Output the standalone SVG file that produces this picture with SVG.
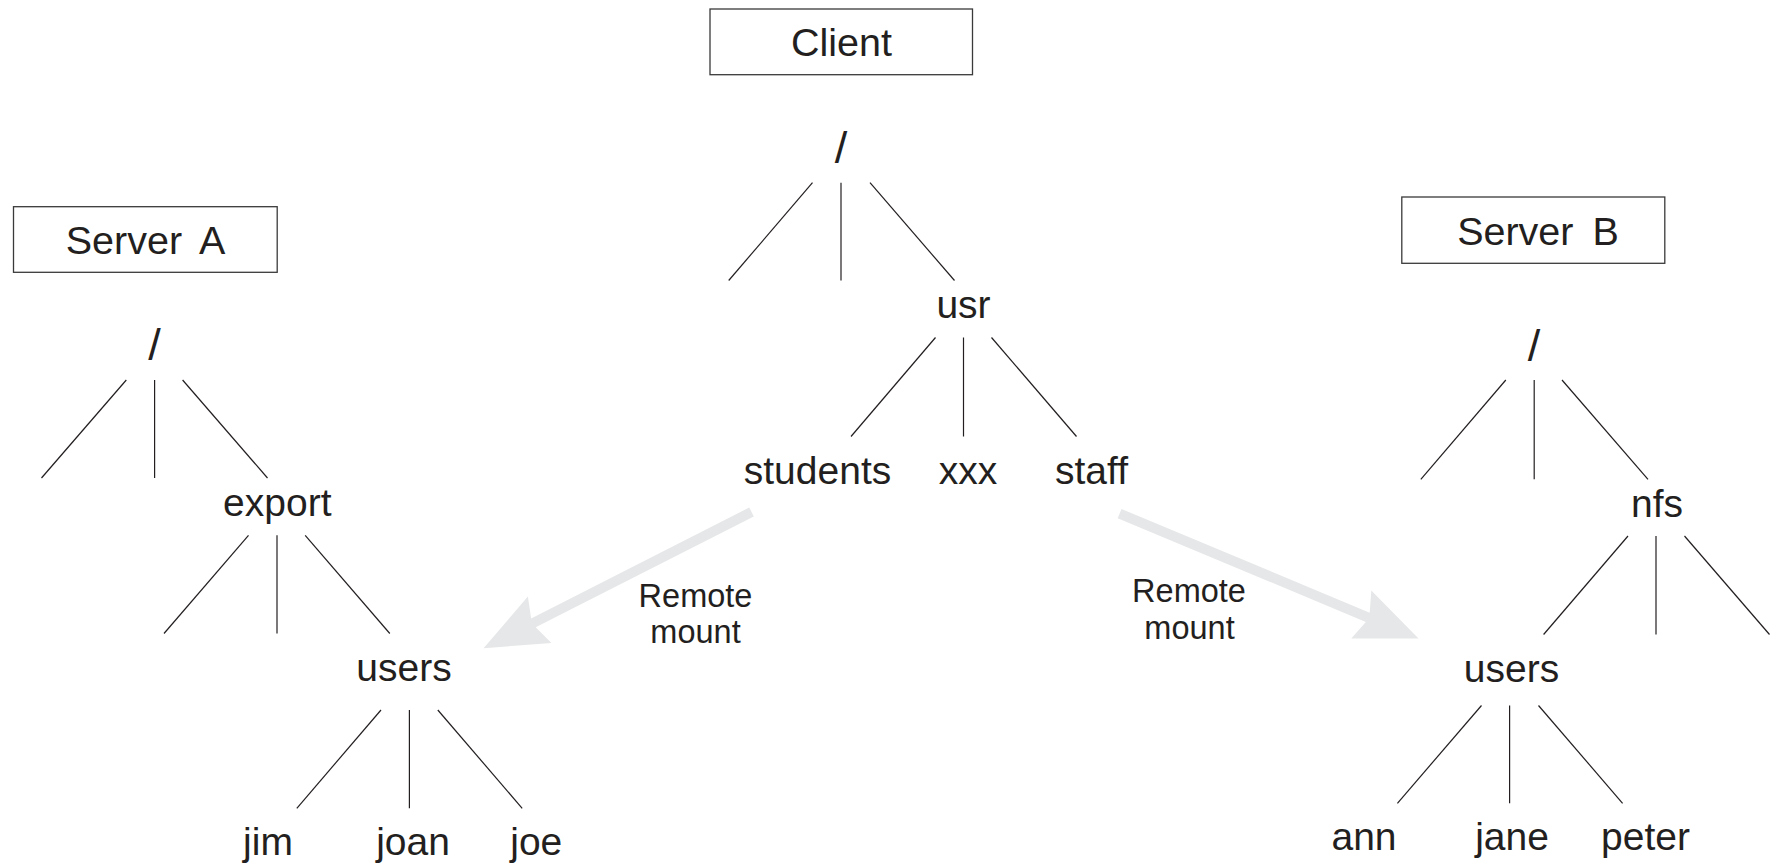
<svg xmlns="http://www.w3.org/2000/svg" width="1779" height="865" viewBox="0 0 1779 865">
<style>
  .box { fill: #ffffff; stroke: #3a3a3a; stroke-width: 1.3; }
  .t { font-family: "Liberation Sans", Arial, sans-serif; font-size: 39px; fill: #231f20; text-anchor: middle; }
  .title { font-size: 39.5px; }
  .slash { font-size: 45px; }
  .lbl { font-family: "Liberation Sans", Arial, sans-serif; font-size: 32.5px; fill: #231f20; text-anchor: middle; }
  .edge { stroke: #231f20; stroke-width: 1.2; fill: none; }
  .mount { fill: #e6e7e8; stroke: none; }
</style>
<rect width="1779" height="865" fill="#ffffff"/>

<g id="connectors">
  <!-- Client tree -->
  <line class="edge" x1="812.5" y1="182.7" x2="728.7" y2="280.5"/>
  <line class="edge" x1="841" y1="182.7" x2="841" y2="280.5"/>
  <line class="edge" x1="870" y1="182.7" x2="954.5" y2="280.5"/>
  <line class="edge" x1="935.5" y1="337.5" x2="851" y2="436.5"/>
  <line class="edge" x1="963.5" y1="337.5" x2="963.5" y2="436.5"/>
  <line class="edge" x1="991.5" y1="337.5" x2="1076.5" y2="436.5"/>
  <!-- Server A tree -->
  <line class="edge" x1="126.3" y1="380" x2="41.5" y2="478"/>
  <line class="edge" x1="154.6" y1="380" x2="154.6" y2="478"/>
  <line class="edge" x1="182.6" y1="380" x2="267.5" y2="478"/>
  <line class="edge" x1="248.5" y1="535.3" x2="164" y2="633.5"/>
  <line class="edge" x1="277" y1="535.3" x2="277" y2="633.5"/>
  <line class="edge" x1="305.2" y1="535.3" x2="389.8" y2="633.5"/>
  <line class="edge" x1="381" y1="710" x2="296.8" y2="808.3"/>
  <line class="edge" x1="409.4" y1="710" x2="409.4" y2="808.3"/>
  <line class="edge" x1="437.8" y1="710" x2="522.2" y2="808.3"/>
  <!-- Server B tree -->
  <line class="edge" x1="1505.8" y1="380" x2="1420.8" y2="479.3"/>
  <line class="edge" x1="1534.2" y1="380" x2="1534.2" y2="479.3"/>
  <line class="edge" x1="1562" y1="380" x2="1648" y2="479.3"/>
  <line class="edge" x1="1628" y1="536" x2="1543.6" y2="634.5"/>
  <line class="edge" x1="1656" y1="536" x2="1656" y2="634.5"/>
  <line class="edge" x1="1684.5" y1="536" x2="1769.5" y2="634.5"/>
  <line class="edge" x1="1481.5" y1="705.5" x2="1397.4" y2="803.3"/>
  <line class="edge" x1="1509.6" y1="705.5" x2="1509.6" y2="803.3"/>
  <line class="edge" x1="1538.5" y1="705.5" x2="1622.6" y2="803.3"/>
  <!-- Remote mount arrows -->
  <path class="mount" transform="translate(483.5,648.3) rotate(-26.96)" d="M0,0 L63,-26 L56,-5 L300.7,-5 L300.7,5 L56,5 L63,26 Z"/>
  <path class="mount" transform="translate(1418.5,638.5) rotate(-157.31)" d="M0,0 L62,-26 L55,-5 L324,-5 L324,5 L55,5 L62,26 Z"/>
</g>

<g id="client">
  <rect class="box" x="710" y="9" width="262.5" height="65.7"/>
  <text class="t title" x="841.5" y="56">Client</text>
</g>
<g id="serverA">
  <rect class="box" x="13.5" y="206.7" width="263.7" height="65.6"/>
  <text class="t title" x="145.5" y="254" word-spacing="8">Server A</text>
</g>
<g id="serverB">
  <rect class="box" x="1401.8" y="197" width="263" height="66.3"/>
  <text class="t title" x="1538" y="244.5" word-spacing="8">Server B</text>
</g>

<g id="client-root"><text class="t slash" x="841" y="163">/</text></g>
<g id="client-usr"><text class="t" x="963.5" y="318">usr</text></g>
<g id="client-students"><text class="t" x="817.5" y="484">students</text></g>
<g id="client-xxx"><text class="t" x="968" y="484">xxx</text></g>
<g id="client-staff"><text class="t" x="1091.5" y="484">staff</text></g>

<g id="a-root"><text class="t slash" x="154.6" y="360">/</text></g>
<g id="a-export"><text class="t" x="277.3" y="516">export</text></g>
<g id="a-users"><text class="t" x="404" y="681">users</text></g>
<g id="a-jim"><text class="t" x="268" y="855">jim</text></g>
<g id="a-joan"><text class="t" x="413" y="855">joan</text></g>
<g id="a-joe"><text class="t" x="536.3" y="855">joe</text></g>

<g id="b-root"><text class="t slash" x="1534" y="361">/</text></g>
<g id="b-nfs"><text class="t" x="1657" y="516.5">nfs</text></g>
<g id="b-users"><text class="t" x="1511.5" y="682">users</text></g>
<g id="b-ann"><text class="t" x="1364" y="850">ann</text></g>
<g id="b-jane"><text class="t" x="1512" y="850">jane</text></g>
<g id="b-peter"><text class="t" x="1645.5" y="850">peter</text></g>

<g id="label-left">
  <text class="lbl" x="695.5" y="607">Remote</text>
  <text class="lbl" x="695.5" y="643">mount</text>
</g>
<g id="label-right">
  <text class="lbl" x="1189" y="602">Remote</text>
  <text class="lbl" x="1189.5" y="638.5">mount</text>
</g>
</svg>
